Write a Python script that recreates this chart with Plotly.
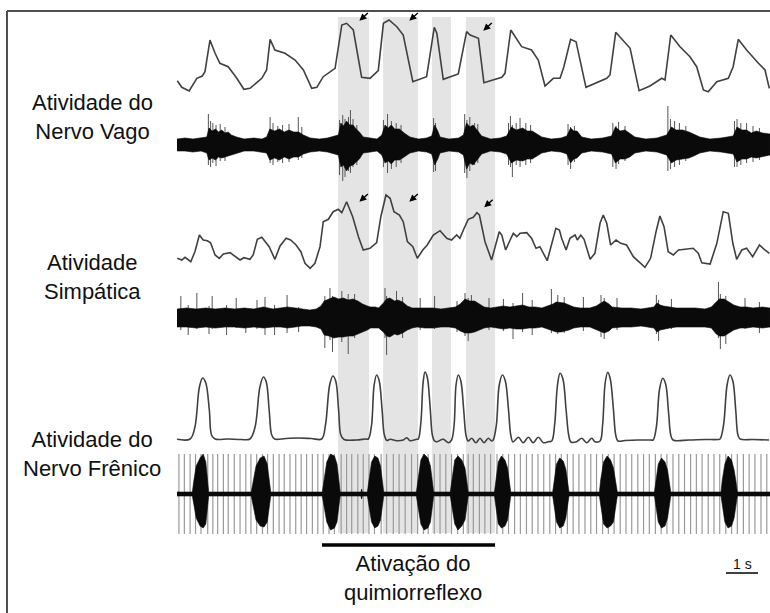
import plotly.graph_objects as go

W, H = 770, 613

# ---------------- data (time in s, amplitudes in arbitrary units) ----------------
vag_int_t = [0.01, 0.15, 0.38, 0.62, 0.79, 0.875, 1.03, 1.19, 1.34, 1.60, 1.87, 2.09, 2.28, 2.65, 2.80, 2.91,
             3.06, 3.375, 3.69, 3.95, 4.21, 4.37, 4.57, 4.94, 5.15, 5.30, 5.51, 5.77, 6.03, 6.29, 6.45, 6.625,
             6.87, 7.07, 7.37, 7.80, 8.04, 8.12, 8.32, 8.79, 9.05, 9.16, 9.42, 9.59, 10.15, 10.25, 10.43, 10.77,
             11.08, 11.29, 11.5, 11.76, 11.97, 12.09, 12.30, 12.47, 12.78, 13.43, 13.53, 13.71, 14.16, 14.44,
             14.78, 15.15, 15.25, 15.43, 15.72, 16.03, 16.24, 16.45, 16.60, 16.87, 17.23, 17.38, 17.54, 17.80,
             18.17, 18.375, 18.51]
vag_int_v = [19.3, 12.7, 9, 21.7, 24, 28.3, 60, 46.7, 36.7, 33.3, 21.7, 10.7, 11.7, 21.7, 30, 60.7,
             50, 46.7, 40, 30, 11.7, 12.7, 23.3, 31.7, 75, 76.7, 70, 22.7, 21.7, 29.3, 76.7, 80,
             73.3, 65, 18.3, 23.3, 72.7, 66.7, 20.7, 26, 68.3, 65, 61.7, 17.3, 22.7, 26.7, 70, 53.3,
             50, 40, 14, 21.7, 21.7, 33.3, 60.7, 58.3, 12.7, 21.7, 25, 67.7, 51.7, 9.3,
             14, 21.7, 20, 65, 53.3, 43.3, 33.3, 10, 8.3, 18.3, 21.7, 33.3, 60.7, 50,
             36.7, 30, 11.7]

# raw vagal activity: dense core envelope + individual spikes
vag_core_t = [0.0, 0.25, 0.5, 0.75, 0.93, 1.0, 1.1, 1.2, 1.3, 1.4, 1.5, 1.6, 1.7, 1.86, 2.1, 2.4, 2.65, 2.80, 2.9,
              3.05, 3.2, 3.35, 3.5, 3.65, 3.8, 3.95, 4.16, 4.45, 4.7, 5.04, 5.12, 5.2, 5.3, 5.4, 5.5, 5.6, 5.7,
              5.82, 6.05, 6.25, 6.40, 6.5, 6.6, 6.7, 6.8, 6.95, 7.1, 7.28, 7.55, 7.8, 7.96, 8.05, 8.15, 8.22,
              8.5, 8.8, 8.95, 9.05, 9.15, 9.25, 9.38, 9.52, 9.8, 10.1, 10.30, 10.45, 10.6, 10.8, 10.95, 11.1,
              11.25, 11.40, 11.7, 12.0, 12.18, 12.3, 12.4, 12.5, 12.65, 12.95, 13.3, 13.58, 13.7, 13.85, 14.0,
              14.15, 14.31, 14.65, 15.0, 15.30, 15.45, 15.6, 15.8, 16.0, 16.15, 16.34, 16.65, 17.0, 17.38, 17.5,
              17.65, 17.8, 17.95, 18.1, 18.3, 18.53]
vag_core_hi = [6, 7, 6, 7, 8, 17, 14, 16, 13, 15, 12, 13, 10, 8, 6, 7, 6, 8, 16,
               14, 16, 13, 15, 13, 13, 10, 7, 6, 7, 10, 22, 19, 24, 20, 20, 16, 13,
               8, 7, 6, 10, 20, 17, 20, 16, 16, 12, 8, 6, 7, 9, 20, 14, 8,
               6, 7, 10, 22, 18, 20, 15, 9, 6, 7, 9, 18, 15, 17, 14, 14,
               11, 8, 6, 7, 9, 17, 14, 14, 8, 6, 7, 9, 18, 14, 15,
               12, 8, 6, 7, 10, 18, 15, 15, 13, 11, 8, 6, 7, 9, 18,
               15, 15, 12, 14, 12, 11]
vag_core_lo = [-6, -6, -7, -6, -8, -15, -13, -15, -12, -13, -12, -11, -10, -8, -6, -6, -7, -8, -15,
               -13, -15, -12, -14, -12, -12, -9, -7, -6, -7, -10, -22, -20, -26, -21, -20, -17, -14,
               -8, -7, -6, -10, -18, -16, -19, -15, -15, -12, -8, -6, -7, -9, -20, -14, -8,
               -6, -7, -10, -24, -18, -20, -15, -9, -6, -7, -9, -18, -15, -16, -14, -14,
               -11, -8, -6, -7, -9, -18, -14, -13, -8, -6, -7, -9, -18, -14, -14,
               -12, -8, -6, -7, -10, -18, -15, -14, -13, -11, -8, -6, -7, -9, -17,
               -14, -14, -12, -13, -12, -10]
vag_spk_t = [0.98, 1.05, 1.12, 1.22, 1.35, 1.5, 2.91, 3.0, 3.15, 3.3, 3.5, 3.79, 3.9,
             5.08, 5.18, 5.25, 5.36, 5.42, 5.5, 5.62, 6.45, 6.58, 6.7, 6.85, 7.0, 8.02, 8.08,
             8.99, 9.06, 9.15, 9.3, 9.4, 10.36, 10.42, 10.48, 10.6, 10.72, 10.9, 11.05,
             12.22, 12.3, 12.42, 13.62, 13.72, 13.8, 14.0, 15.34, 15.42, 15.55, 15.7, 15.9,
             17.42, 17.5, 17.62, 17.8, 18.0, 18.2]
vag_spk_hi = [31, 24, 22, 20, 21, 18, 28, 22, 19, 20, 21, 28, 18,
              25, 30, 26, 28, 35, 26, 20, 25, 31, 24, 22, 20, 27, 22,
              31, 25, 28, 22, 21, 22, 29, 20, 22, 27, 22, 20,
              21, 18, 19, 22, 19, 23, 19, 39, 26, 24, 22, 19,
              24, 26, 22, 22, 19, 17]
vag_spk_lo = [-20, -22, -18, -21, -16, -16, -18, -20, -17, -18, -17, -15, -13,
              -30, -36, -32, -26, -28, -22, -20, -22, -28, -24, -22, -18, -27, -26,
              -28, -33, -26, -20, -18, -20, -22, -32, -20, -22, -20, -18,
              -20, -24, -17, -22, -24, -19, -16, -26, -24, -22, -20, -16,
              -22, -22, -20, -18, -17, -15]

sym_int_t = [0.01, 0.15, 0.25, 0.35, 0.43, 0.56, 0.70, 0.82, 0.95, 1.05, 1.19, 1.32, 1.45, 1.66, 1.81, 1.97,
             2.09, 2.28, 2.38, 2.51, 2.65, 2.75, 2.88, 3.06, 3.22, 3.41, 3.55, 3.72, 3.87, 4.0, 4.16, 4.31,
             4.47, 4.57, 4.73, 4.88, 5.04, 5.15, 5.30, 5.49, 5.67, 5.82, 6.03, 6.24, 6.37, 6.53, 6.66, 6.78,
             6.95, 7.07, 7.20, 7.37, 7.51, 7.68, 7.82, 8.01, 8.22, 8.43, 8.58, 8.74, 8.84, 8.95, 9.10, 9.26,
             9.37, 9.45, 9.625, 9.83, 9.97, 10.07, 10.15, 10.27, 10.41, 10.51, 10.62, 10.72, 10.93, 11.08,
             11.22, 11.34, 11.57, 11.71, 11.84, 11.95, 12.02, 12.16, 12.28, 12.44, 12.51, 12.62, 12.72, 12.91,
             13.06, 13.22, 13.32, 13.43, 13.55, 13.72, 13.87, 14.05, 14.26, 14.625, 14.80, 14.97, 15.09, 15.22,
             15.35, 15.51, 15.67, 15.875, 16.13, 16.29, 16.40, 16.66, 16.87, 17.07, 17.23, 17.37, 17.49, 17.65,
             17.80, 17.99, 18.20, 18.375, 18.51]
sym_int_v = [16.7, 15, 17.7, 15.7, 13.3, 23.3, 40, 35, 34.3, 32.3, 20, 16.7, 21, 22.3, 18.3, 15,
             17.3, 15.7, 20, 35.7, 37.7, 33.3, 28.3, 15.7, 29, 36.7, 35, 30, 23.3, 11.7, 6.7, 11.7,
             28.3, 53.3, 55.7, 63.3, 65.7, 62.3, 73.3, 58.3, 38.3, 25, 26.7, 32.3, 58.3, 80, 76.7, 63.3,
             60, 53.3, 33.3, 28.3, 16.7, 25, 30, 40, 44.3, 36.7, 35, 40, 36.7, 45, 55.7, 57.7,
             62.3, 60, 33.3, 15, 30, 43.3, 40, 25, 35, 41.7, 38.3, 41.7, 42.3, 36.7,
             26.7, 28.3, 14.3, 30, 46.7, 45, 36.7, 25, 36.7, 40, 35, 40, 35.7, 15.7,
             21.7, 51.7, 60, 51.7, 30, 35, 31.7, 30, 18.3, 7.7, 16.7, 43.3, 59, 48.3,
             23.3, 20, 25, 25.7, 26.7, 21.7, 12.3, 11, 31.7, 63.3, 61.7, 31.7, 15.7, 25,
             26.7, 18.3, 30, 25, 21.7]

# raw sympathetic activity: dense core envelope + individual spikes
sym_core_t = [0.0, 0.3, 0.6, 0.9, 1.2, 1.5, 1.8, 2.1, 2.4, 2.7, 3.0, 3.25, 3.45, 3.7, 3.9, 4.15, 4.35, 4.5, 4.6,
              4.75, 4.9, 5.05, 5.2, 5.35, 5.5, 5.65, 5.8, 5.95, 6.05, 6.2, 6.3, 6.45, 6.55, 6.65, 6.8, 6.9, 7.05,
              7.2, 7.35, 7.5, 7.75, 8.0, 8.25, 8.5, 8.7, 8.85, 9.0, 9.15, 9.3, 9.45, 9.6, 9.8, 10.0, 10.2, 10.4,
              10.6, 10.8, 11.0, 11.2, 11.4, 11.6, 11.75, 11.85, 12.0, 12.1, 12.25, 12.4, 12.6, 12.9, 13.1, 13.2,
              13.35, 13.5, 13.6, 13.9, 14.2, 14.5, 14.7, 14.9, 15.0, 15.1, 15.2, 15.4, 15.6, 15.9, 16.2, 16.5,
              16.7, 16.85, 16.95, 17.1, 17.25, 17.4, 17.6, 17.8, 18.0, 18.3, 18.53]
sym_core_hi = [9, 10, 9, 10, 9, 10, 9, 10, 9, 11, 9, 10, 11, 10, 9, 8, 9, 12, 17,
               19, 21, 19, 20, 18, 19, 17, 14, 12, 11, 11, 10, 15, 19, 20, 17, 18, 16,
               12, 10, 10, 10, 10, 9, 10, 11, 14, 19, 17, 17, 14, 11, 10, 11, 12, 11,
               12, 13, 11, 11, 10, 12, 14, 16, 15, 15, 13, 11, 10, 10, 12, 14,
               17, 14, 11, 10, 10, 9, 10, 11, 15, 13, 12, 11, 10, 10, 10, 9,
               11, 16, 19, 19, 16, 13, 11, 11, 10, 11, 10]
sym_core_lo = [-9, -9, -10, -9, -10, -9, -9, -10, -9, -10, -9, -9, -10, -9, -8, -8, -9, -11, -17,
               -18, -20, -19, -19, -18, -18, -16, -14, -12, -10, -10, -10, -14, -18, -19, -16, -17, -15,
               -12, -10, -9, -10, -10, -9, -9, -10, -13, -15, -15, -14, -12, -10, -9, -10, -11, -10,
               -11, -11, -10, -10, -9, -11, -13, -14, -14, -13, -12, -10, -9, -9, -11, -13,
               -15, -13, -10, -9, -9, -8, -9, -10, -14, -12, -11, -10, -9, -9, -9, -9,
               -10, -16, -18, -18, -15, -12, -10, -10, -9, -10, -9]
sym_spk_t = [0.12, 0.35, 0.62, 1.0, 1.1, 1.55, 1.85, 2.15, 2.5, 2.75, 3.05, 3.44, 3.8,
             4.62, 4.78, 4.86, 5.15, 5.35, 5.55, 6.5, 6.55, 6.86, 7.05, 7.6, 8.05, 8.75,
             9.0, 9.1, 9.2, 9.75, 10.2, 10.5, 10.8, 11.1, 11.7, 11.9, 12.1, 12.7, 13.25, 13.35,
             13.75, 14.98, 15.05, 15.45, 16.92, 16.98, 17.15, 17.75, 18.2]
sym_spk_hi = [22, 13, 25, 12, 22, 13, 20, 10, 18, 21, 13, 23, 11,
              22, 30, 22, 27, 24, 24, 30, 22, 27, 21, 20, 22, 17,
              25, 20, 23, 20, 19, 15, 25, 18, 29, 23, 21, 21, 23, 20,
              20, 23, 18, 19, 36, 24, 22, 20, 16]
sym_spk_lo = [-12, -17, -11, -16, -11, -17, -10, -15, -11, -17, -17, -15, -14,
              -30, -22, -34, -24, -36, -20, -20, -37, -17, -20, -12, -11, -14,
              -18, -23, -15, -12, -13, -21, -14, -17, -15, -16, -15, -13, -19, -21,
              -12, -16, -23, -11, -20, -31, -26, -11, -15]

phr_int_t = [0.0, 0.41, 0.56, 0.70, 0.80, 0.90, 1.01, 1.08, 1.19, 1.6, 2.0,
             2.28, 2.44, 2.59, 2.70, 2.79, 2.88, 2.96, 3.05, 3.4, 3.8, 4.2,
             4.52, 4.64, 4.77, 4.87, 4.96, 5.05, 5.12, 5.22, 5.6, 5.9,
             5.98, 6.08, 6.16, 6.24, 6.32, 6.41, 6.48, 6.56, 6.66, 6.87, 7.07, 7.18, 7.28, 7.49,
             7.54, 7.62, 7.69, 7.75, 7.82, 7.91, 7.98, 8.05, 8.12, 8.32, 8.48,
             8.58, 8.66, 8.72, 8.79, 8.87, 8.96, 9.03, 9.10, 9.21, 9.34, 9.47, 9.59, 9.73, 9.83,
             9.88, 9.98, 10.07, 10.17, 10.26, 10.36, 10.43, 10.50, 10.67, 10.82, 10.98, 11.13, 11.29, 11.45, 11.60,
             11.71, 11.80, 11.89, 11.97, 12.06, 12.16, 12.24, 12.31, 12.49, 12.65, 12.80, 12.96, 13.06,
             13.22, 13.30, 13.38, 13.46, 13.54, 13.64, 13.71, 13.78, 14.0, 14.4, 14.8,
             14.88, 14.98, 15.08, 15.18, 15.27, 15.36, 15.43, 15.50, 16.0, 16.5, 16.9,
             16.97, 17.08, 17.19, 17.28, 17.37, 17.46, 17.53, 17.60, 18.0, 18.5]
phr_int_v = [7.7, 8, 20, 60, 69, 64, 37, 12, 8, 8, 7.5,
             8, 20, 60, 70, 65, 37, 12, 8, 8.5, 9, 8.5,
             8, 22, 62, 71, 66, 37, 12, 7.5, 7, 8,
             8, 22, 62, 72, 66, 37, 12, 6.5, 7.7, 6.3, 7, 9.3, 6.3, 7.7,
             8, 24, 64, 75, 70, 40, 12, 6, 5.3, 7.7, 4.3,
             7, 22, 62, 72, 66, 37, 12, 6, 8.7, 4.3, 8.7, 4.3, 8.7, 6,
             7, 22, 62, 72, 66, 37, 12, 5, 9.7, 4.3, 9.7, 4.3, 9.7, 4.3, 5.3,
             6, 22, 62, 73.7, 68, 37, 12, 5, 5.3, 8.7, 4.3, 8.7, 5.3,
             6, 22, 64, 74.7, 68, 37, 12, 6, 6.5, 7, 7,
             7, 20, 58, 68.7, 63, 35, 12, 7, 7, 7.5, 7.5,
             8, 22, 62, 72, 66, 37, 12, 8, 7.5, 7]

phr_raw_t = [0.0, 0.48, 0.52, 0.6, 0.72, 0.82, 0.9, 0.95, 0.99,
             2.32, 2.37, 2.47, 2.6, 2.72, 2.82, 2.89, 2.93,
             4.54, 4.59, 4.68, 4.8, 4.92, 5.0, 5.06, 5.10, 5.75, 5.77, 5.79,
             5.95, 6.0, 6.08, 6.18, 6.28, 6.36, 6.42, 6.46,
             7.48, 7.53, 7.62, 7.72, 7.84, 7.92, 7.98, 8.02,
             8.54, 8.59, 8.68, 8.78, 8.9, 9.0, 9.06, 9.10,
             9.92, 9.96, 10.04, 10.14, 10.25, 10.33, 10.39, 10.43,
             11.74, 11.78, 11.86, 11.96, 12.07, 12.15, 12.21, 12.25,
             13.20, 13.24, 13.33, 13.44, 13.55, 13.64, 13.71, 13.76,
             14.92, 14.96, 15.04, 15.14, 15.25, 15.33, 15.39, 15.43,
             17.00, 17.04, 17.12, 17.22, 17.33, 17.41, 17.47, 17.51, 18.53]
phr_raw_hi = [2, 2, 12, 28, 36, 40, 32, 14, 2,
              2, 12, 28, 36, 38, 30, 14, 2,
              2, 14, 32, 40, 38, 30, 14, 2, 2, 5, 2,
              2, 14, 32, 38, 36, 28, 12, 2,
              2, 14, 34, 40, 36, 28, 12, 2,
              2, 14, 34, 38, 34, 26, 12, 2,
              2, 14, 32, 38, 34, 26, 12, 2,
              2, 12, 30, 36, 33, 25, 12, 2,
              2, 14, 32, 38, 34, 26, 12, 2,
              2, 12, 30, 36, 32, 24, 12, 2,
              2, 14, 30, 38, 34, 24, 12, 2, 2]
phr_raw_lo = [-2, -2, -10, -24, -32, -34, -30, -14, -2,
              -2, -10, -26, -32, -33, -28, -12, -2,
              -2, -12, -28, -36, -34, -28, -12, -2, -2, -5, -2,
              -2, -12, -28, -34, -32, -26, -12, -2,
              -2, -12, -30, -36, -34, -28, -12, -2,
              -2, -12, -30, -36, -32, -26, -12, -2,
              -2, -12, -30, -34, -32, -26, -12, -2,
              -2, -12, -28, -34, -32, -24, -12, -2,
              -2, -12, -30, -34, -32, -28, -12, -2,
              -2, -10, -28, -34, -32, -24, -10, -2,
              -2, -12, -28, -34, -32, -24, -10, -2, -2]

# cardiac artefact times in the phrenic recording (s)
ecg_t = [0.06, 0.23, 0.41, 0.58, 0.75, 0.96, 1.12, 1.27, 1.45, 1.60, 1.79, 1.97, 2.15, 2.31, 2.49, 2.67,
         2.83, 3.01, 3.19, 3.35, 3.53, 3.71, 3.88, 4.05, 4.23, 4.40, 4.57, 4.75, 4.92, 5.13, 5.30, 5.46,
         5.65, 5.82, 6.0, 6.17, 6.38, 6.55, 6.76, 6.94, 7.13, 7.33, 7.52, 7.70, 7.85, 8.04, 8.22, 8.40,
         8.58, 8.77, 8.95, 9.10, 9.26, 9.45, 9.62, 9.80, 10.0, 10.18, 10.36, 10.55, 10.73, 10.92, 11.10,
         11.28, 11.46, 11.65, 11.83, 12.01, 12.20, 12.38, 12.56, 12.75, 12.93, 13.11, 13.30, 13.48, 13.66,
         13.85, 14.03, 14.21, 14.40, 14.58, 14.76, 14.95, 15.13, 15.31, 15.50, 15.68, 15.86, 16.05, 16.23,
         16.41, 16.60, 16.78, 16.96, 17.15, 17.33, 17.51, 17.70, 17.88, 18.06, 18.25, 18.43]
ecg_amp = 40

# chemoreflex stimulation: grey bands (s) and bar
band_start = [5.03, 6.44, 7.97, 9.03]
band_end = [6.00, 7.53, 8.56, 9.94]
stim_on, stim_off = 4.53, 9.94

# arrows (time, value) on integrated vagal and sympathetic traces
vag_arrow_t = [5.70, 7.26, 9.57]
vag_arrow_v = [79.3, 79.3, 69.3]
sym_arrow_t = [5.70, 7.26, 9.60]
sym_arrow_v = [73.3, 73.3, 67.7]

labels = ["Atividade do<br>Nervo Vago", "Atividade<br>Simpática", "Atividade do<br>Nervo Frênico"]
stim_label = "Ativação do<br>quimiorreflexo"
scale_label = "1 s"

# ---------------- layout helpers ----------------
X0_PX, PX_PER_S = 177, 32.0


def dom(top_px, bot_px):
    return [(H - bot_px) / H, (H - top_px) / H]


def px_x(px):
    return (px - X0_PX) / PX_PER_S


def py(px):
    return (H - px) / H


FONT = "Arial, 'Liberation Sans', Helvetica, sans-serif"
LINE_COL = "#404040"

fig = go.Figure()

# integrated traces
fig.add_trace(go.Scatter(x=vag_int_t, y=vag_int_v, mode="lines", yaxis="y",
                         line=dict(color=LINE_COL, width=1.6)))
fig.add_trace(go.Scatter(x=sym_int_t, y=sym_int_v, mode="lines", yaxis="y3",
                         line=dict(color=LINE_COL, width=1.6)))
fig.add_trace(go.Scatter(x=phr_int_t, y=phr_int_v, mode="lines", yaxis="y5",
                         line=dict(color=LINE_COL, width=1.6, shape="spline", smoothing=1.0)))


def env_trace(t, hi, lo, yaxis):
    return go.Scatter(x=list(t) + list(t)[::-1], y=list(hi) + list(lo)[::-1], mode="lines",
                      fill="toself", fillcolor="#0a0a0a", yaxis=yaxis,
                      line=dict(color="#0a0a0a", width=0.6))


def seg_trace(t, hi, lo, yaxis, color, width):
    xs, ys = [], []
    for tt, a, b in zip(t, hi, lo):
        xs += [tt, tt, None]
        ys += [a, b, None]
    return go.Scatter(x=xs, y=ys, mode="lines", yaxis=yaxis, line=dict(color=color, width=width))


fig.add_trace(seg_trace(vag_spk_t, vag_spk_hi, vag_spk_lo, "y2", "#555555", 1))
fig.add_trace(env_trace(vag_core_t, vag_core_hi, vag_core_lo, "y2"))
fig.add_trace(seg_trace(sym_spk_t, sym_spk_hi, sym_spk_lo, "y4", "#555555", 1))
fig.add_trace(env_trace(sym_core_t, sym_core_hi, sym_core_lo, "y4"))

# cardiac artefacts + raw phrenic
fig.add_trace(seg_trace(ecg_t, [ecg_amp] * len(ecg_t), [-ecg_amp] * len(ecg_t), "y6", "#9a9a9a", 1.2))
fig.add_trace(env_trace(phr_raw_t, phr_raw_hi, phr_raw_lo, "y6"))

shapes = []
for s, e in zip(band_start, band_end):
    shapes.append(dict(type="rect", xref="x", yref="paper", x0=s, x1=e, y0=py(533), y1=py(17),
                       fillcolor="#e4e4e4", line=dict(width=0), layer="below"))
# chemoreflex bar
shapes.append(dict(type="line", xref="x", yref="paper", x0=stim_on, x1=stim_off, y0=py(545), y1=py(545),
                   line=dict(color="black", width=3.5)))
# 1 s scale bar
sb0 = px_x(726)
shapes.append(dict(type="line", xref="x", yref="paper", x0=sb0, x1=sb0 + 1.0, y0=py(573), y1=py(573),
                   line=dict(color="black", width=1.5)))
# frame
shapes.append(dict(type="line", xref="paper", yref="paper", x0=7 / W, x1=1.02, y0=py(11), y1=py(11),
                   line=dict(color="#505050", width=2)))
shapes.append(dict(type="line", xref="paper", yref="paper", x0=7 / W, x1=7 / W, y0=py(11), y1=-0.02,
                   line=dict(color="#505050", width=2)))

ann = []
for t, v in zip(vag_arrow_t, vag_arrow_v):
    ann.append(dict(x=t, y=v, xref="x", yref="y", text="", showarrow=True, ax=10, ay=-9,
                    arrowhead=2, arrowsize=1, arrowwidth=1.4, arrowcolor="black"))
for t, v in zip(sym_arrow_t, sym_arrow_v):
    ann.append(dict(x=t, y=v, xref="x", yref="y3", text="", showarrow=True, ax=10, ay=-9,
                    arrowhead=2, arrowsize=1, arrowwidth=1.4, arrowcolor="black"))

label_y = [117, 276.5, 453.5]
for txt, yy in zip(labels, label_y):
    ann.append(dict(x=92 / W, y=py(yy), xref="paper", yref="paper", text=txt, showarrow=False,
                    xanchor="center", yanchor="middle", align="center",
                    font=dict(family=FONT, size=22, color="#111111")))
ann.append(dict(x=px_x(413), y=py(577.5), xref="x", yref="paper", text=stim_label, showarrow=False,
                xanchor="center", yanchor="middle", align="center",
                font=dict(family=FONT, size=22, color="#111111")))
ann.append(dict(x=sb0 + 0.5, y=py(564), xref="x", yref="paper", text=scale_label, showarrow=False,
                xanchor="center", yanchor="middle",
                font=dict(family=FONT, size=14, color="#111111")))

hidden = dict(visible=False, showgrid=False, zeroline=False, fixedrange=True)
layout = dict(
    width=W, height=H, margin=dict(l=0, r=0, t=0, b=0),
    paper_bgcolor="white", plot_bgcolor="rgba(0,0,0,0)", showlegend=False,
    xaxis=dict(range=[px_x(0), px_x(W)], domain=[0, 1], **hidden),
    yaxis=dict(range=[0, 90], domain=dom(10, 100), **hidden),
    yaxis2=dict(range=[-40, 40], domain=dom(105, 185), anchor="x", **hidden),
    yaxis3=dict(range=[0, 90], domain=dom(185, 275), anchor="x", **hidden),
    yaxis4=dict(range=[-40, 40], domain=dom(278, 358), anchor="x", **hidden),
    yaxis5=dict(range=[0, 85], domain=dom(362, 447), anchor="x", **hidden),
    yaxis6=dict(range=[-44, 44], domain=dom(450, 538), anchor="x", **hidden),
    shapes=shapes, annotations=ann,
)
fig.update_layout(**layout)
fig.write_html("out.html")
